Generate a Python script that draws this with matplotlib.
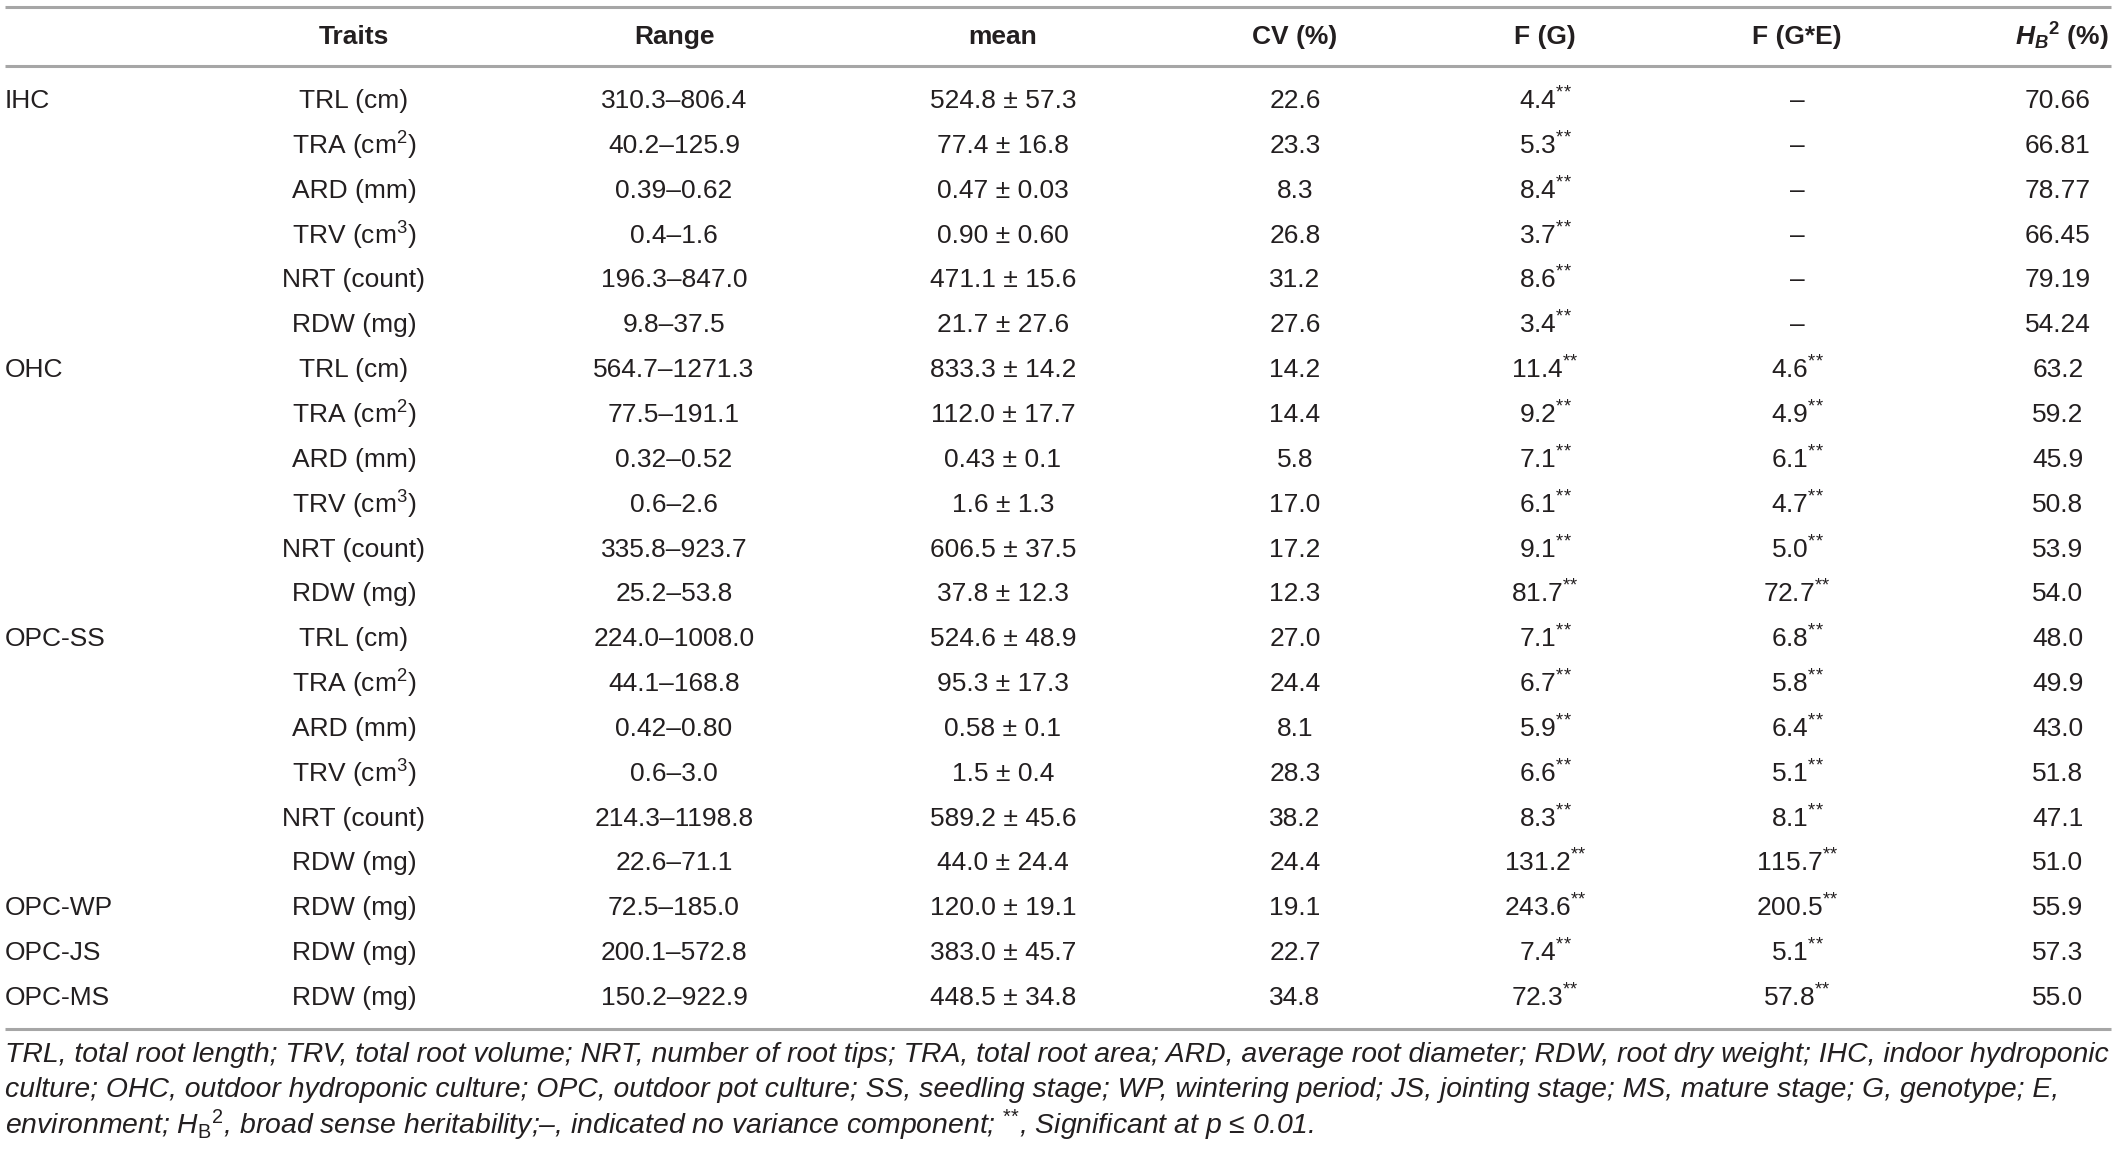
import matplotlib
matplotlib.use("Agg")
import matplotlib.pyplot as plt

plt.rcParams['font.family'] = ['Liberation Sans', 'DejaVu Sans']
plt.rcParams['mathtext.fontset'] = 'custom'
plt.rcParams['mathtext.rm'] = 'Liberation Sans'
plt.rcParams['mathtext.it'] = 'Liberation Sans:italic'
plt.rcParams['mathtext.bf'] = 'Liberation Sans:bold'
plt.rcParams['mathtext.bfit'] = 'Liberation Sans:italic:bold'

# ---- table data ----
headers = ["Traits", "Range", "mean", "CV (%)", "F (G)", "F (G*E)",
           r"$\mathbfit{H}_{\mathbfit{B}}{}^{\mathbf{2}}$ (%)"]

groups = ["IHC", "", "", "", "", "",
          "OHC", "", "", "", "", "",
          "OPC-SS", "", "", "", "", "",
          "OPC-WP", "OPC-JS", "OPC-MS"]

trait_set = ["TRL (cm)", r"TRA (cm$^{2}$)", "ARD (mm)", r"TRV (cm$^{3}$)",
             "NRT (count)", "RDW (mg)"]
traits = trait_set * 3 + ["RDW (mg)"] * 3

ranges = ["310.3–806.4", "40.2–125.9", "0.39–0.62", "0.4–1.6", "196.3–847.0", "9.8–37.5",
          "564.7–1271.3", "77.5–191.1", "0.32–0.52", "0.6–2.6", "335.8–923.7", "25.2–53.8",
          "224.0–1008.0", "44.1–168.8", "0.42–0.80", "0.6–3.0", "214.3–1198.8", "22.6–71.1",
          "72.5–185.0", "200.1–572.8", "150.2–922.9"]

means = ["524.8 ± 57.3", "77.4 ± 16.8", "0.47 ± 0.03", "0.90 ± 0.60", "471.1 ± 15.6", "21.7 ± 27.6",
         "833.3 ± 14.2", "112.0 ± 17.7", "0.43 ± 0.1", "1.6 ± 1.3", "606.5 ± 37.5", "37.8 ± 12.3",
         "524.6 ± 48.9", "95.3 ± 17.3", "0.58 ± 0.1", "1.5 ± 0.4", "589.2 ± 45.6", "44.0 ± 24.4",
         "120.0 ± 19.1", "383.0 ± 45.7", "448.5 ± 34.8"]

cv = ["22.6", "23.3", "8.3", "26.8", "31.2", "27.6",
      "14.2", "14.4", "5.8", "17.0", "17.2", "12.3",
      "27.0", "24.4", "8.1", "28.3", "38.2", "24.4",
      "19.1", "22.7", "34.8"]

f_g = ["4.4", "5.3", "8.4", "3.7", "8.6", "3.4",
       "11.4", "9.2", "7.1", "6.1", "9.1", "81.7",
       "7.1", "6.7", "5.9", "6.6", "8.3", "131.2",
       "243.6", "7.4", "72.3"]

f_ge = ["", "", "", "", "", "",
        "4.6", "4.9", "6.1", "4.7", "5.0", "72.7",
        "6.8", "5.8", "6.4", "5.1", "8.1", "115.7",
        "200.5", "5.1", "57.8"]

h2 = ["70.66", "66.81", "78.77", "66.45", "79.19", "54.24",
      "63.2", "59.2", "45.9", "50.8", "53.9", "54.0",
      "48.0", "49.9", "43.0", "51.8", "47.1", "51.0",
      "55.9", "57.3", "55.0"]

footnote = [
    "TRL, total root length; TRV, total root volume; NRT, number of root tips; TRA, total root area; "
    "ARD, average root diameter; RDW, root dry weight; IHC, indoor hydroponic",
    "culture; OHC, outdoor hydroponic culture; OPC, outdoor pot culture; SS, seedling stage; "
    "WP, wintering period; JS, jointing stage; MS, mature stage; G, genotype; E,",
    r"environment; $\mathit{H}_{\mathrm{B}}{}^{\mathrm{2}}$, broad sense heritability;–, "
    r"indicated no variance component; ${}^{{*}{*}}$, Significant at $\mathit{p}$ ≤ 0.01.",
]

# ---- layout (pixels) ----
W, H = 2117, 1151
TXT = "#231f20"
LINE = "#a6a6a6"
FS = 19
FS_NOTE = 20.4

fig = plt.figure(figsize=(W / 100, H / 100), dpi=100)
ax = fig.add_axes([0, 0, 1, 1])
ax.set_xlim(0, W)
ax.set_ylim(H, 0)
ax.axis("off")

x_group = 5
col_x = [354, 674, 1003, 1295, 1545, 1797, 2058]
head_y = 37
row0, step = 101, 44.85

for y in (7, 66, 1029):
    ax.plot([5, 2111], [y, y], color=LINE, lw=2.2, solid_capstyle="butt")

for i, h in enumerate(headers):
    if i < 6:
        ax.text(col_x[i], head_y, h, ha="center", va="center", fontsize=FS,
                fontweight="bold", color=TXT)
    else:
        ax.text(2109, head_y, h, ha="right", va="center", fontsize=FS,
                fontweight="bold", color=TXT)


def star(v):
    if not v:
        return "–"
    return v + r"${}^{{*}{*}}$"


for r in range(len(traits)):
    y = row0 + r * step
    ax.text(x_group, y, groups[r], ha="left", va="center", fontsize=FS, color=TXT)
    cells = [traits[r], ranges[r], means[r], cv[r], star(f_g[r]), star(f_ge[r]), h2[r]]
    for c, val in enumerate(cells):
        ax.text(col_x[c], y, val, ha="center", va="center", fontsize=FS, color=TXT)

for k, line in enumerate(footnote):
    ax.text(5, 1055 + k * 35, line, ha="left", va="center", fontsize=FS_NOTE,
            style="italic", color=TXT)

fig.savefig("out.png", dpi=100)
